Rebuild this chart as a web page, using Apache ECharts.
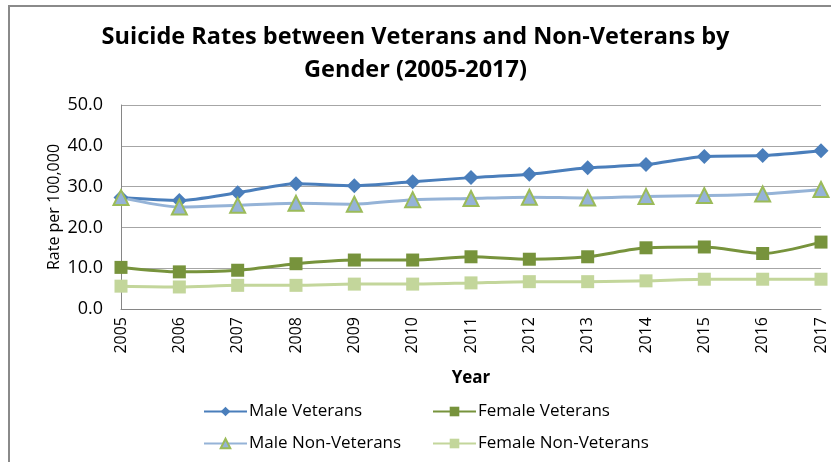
<!DOCTYPE html>
<html>
<head>
<meta charset="utf-8">
<script src="https://cdn.jsdelivr.net/npm/echarts@6/dist/echarts.min.js"></script>
<style>
  html, body { margin: 0; padding: 0; background: #fff; }
  #chart { width: 831px; height: 462px; }
</style>
</head>
<body>
<div id="chart"></div>
<script>
// years on the x axis
const years = ['2005', '2006', '2007', '2008', '2009', '2010', '2011', '2012', '2013', '2014', '2015', '2016', '2017']

// rates per 100,000
const maleVeterans = [27.3, 26.6, 28.5, 30.7, 30.2, 31.2, 32.2, 33.0, 34.6, 35.4, 37.4, 37.6, 38.8]
const femaleVeterans = [10.2, 9.1, 9.5, 11.1, 12.0, 12.0, 12.8, 12.2, 12.8, 15.0, 15.2, 13.6, 16.4]
const maleNonVeterans = [27.3, 25.0, 25.4, 25.9, 25.7, 26.8, 27.1, 27.4, 27.2, 27.6, 27.8, 28.2, 29.3]
const femaleNonVeterans = [5.6, 5.4, 5.8, 5.8, 6.1, 6.1, 6.4, 6.7, 6.7, 6.9, 7.3, 7.3, 7.3]

const font = '"Open Sans", Lato, sans-serif'

const chart = echarts.init(document.getElementById('chart'))

const legendBase = {
  top: 403, orient: 'vertical', itemGap: 15, padding: 0,
  itemWidth: 43, itemHeight: 12,
  textStyle: { fontFamily: font, fontSize: 17, color: '#000', padding: [0, 0, 0, -3] }
}

const option = {
  animation: false,
  textStyle: { fontFamily: font, color: '#000' },
  title: {
    text: 'Suicide Rates between Veterans and Non-Veterans by\nGender (2005-2017)',
    left: 'center',
    top: 16,
    textStyle: { fontFamily: font, fontSize: 23.5, fontWeight: 'bold', color: '#000', lineHeight: 33 }
  },
  // outer frame of the chart
  graphic: [{
    type: 'rect',
    shape: { x: 9, y: 6, width: 900, height: 500 },
    style: { fill: 'none', stroke: '#8a8a8a', lineWidth: 2 },
    silent: true
  }],
  legend: [
    Object.assign({ left: 203, data: ['Male Veterans', 'Male Non-Veterans'] }, legendBase),
    Object.assign({ left: 432, data: ['Female Veterans', 'Female Non-Veterans'] }, legendBase)
  ],
  grid: { left: 121, right: 10, top: 105, bottom: 153, containLabel: false },
  xAxis: {
    type: 'category',
    data: years,
    boundaryGap: false,
    name: 'Year',
    nameLocation: 'middle',
    nameGap: 61,
    nameTextStyle: { fontFamily: font, fontSize: 17, fontWeight: 'bold', color: '#000' },
    axisLine: { lineStyle: { color: '#868686', width: 1 } },
    axisTick: { show: false },
    axisLabel: { rotate: 90, fontSize: 16, color: '#000', margin: 8 }
  },
  yAxis: {
    type: 'value',
    min: 0, max: 50, interval: 10,
    name: 'Rate per 100,000',
    nameLocation: 'middle',
    nameGap: 59,
    nameMoveOverlap: false,
    nameRotate: 90,
    nameTextStyle: { fontFamily: font, fontSize: 16, color: '#000' },
    axisLine: { show: true, lineStyle: { color: '#868686', width: 1 } },
    axisTick: { show: false },
    axisLabel: { fontSize: 18, color: '#000', margin: 18, formatter: v => v.toFixed(1) },
    splitLine: { lineStyle: { color: '#a6a6a6', width: 1 } }
  },
  series: [
    {
      name: 'Male Veterans', type: 'line', data: maleVeterans, smooth: 0.25,
      symbol: 'diamond', symbolSize: 15,
      lineStyle: { color: '#4a7ebb', width: 3 },
      itemStyle: { color: '#4a7ebb' }
    },
    {
      name: 'Female Veterans', type: 'line', data: femaleVeterans, smooth: 0.25,
      symbol: 'rect', symbolSize: 13,
      lineStyle: { color: '#77933c', width: 3 },
      itemStyle: { color: '#77933c' }
    },
    {
      name: 'Male Non-Veterans', type: 'line', data: maleNonVeterans, smooth: 0.25,
      symbol: 'triangle', symbolSize: 15,
      lineStyle: { color: '#95b3d7', width: 3 },
      itemStyle: { color: '#95b3d7', borderColor: '#9bbb59', borderWidth: 2 }
    },
    {
      name: 'Female Non-Veterans', type: 'line', data: femaleNonVeterans, smooth: 0.25,
      symbol: 'rect', symbolSize: 13,
      lineStyle: { color: '#c3d69b', width: 3 },
      itemStyle: { color: '#c3d69b' }
    }
  ]
}

chart.setOption(option)
</script>
</body>
</html>
